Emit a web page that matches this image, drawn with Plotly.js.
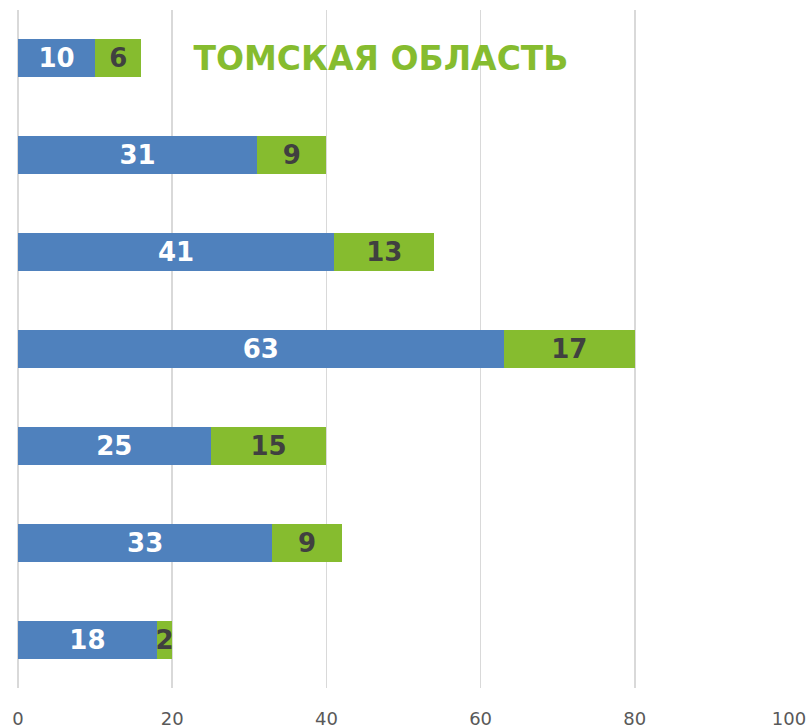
<!DOCTYPE html>
<html>
<head>
<meta charset="utf-8">
<script src="https://cdn.plot.ly/plotly-3.0.1.min.js"></script>
<style>html,body{margin:0;padding:0;background:#fff;}#chart{width:809px;height:728px;}</style>
</head>
<body>
<div id="chart"></div>
<script>
// categories from bottom to top
const categories = ["7", "6", "5", "4", "3", "2", "1"];
const seriesBlue = [18, 33, 25, 63, 41, 31, 10];
const seriesGreen = [2, 9, 15, 17, 13, 9, 6];
const xTickValues = [0, 20, 40, 60, 80, 100];
const chartTitle = "ТОМСКАЯ ОБЛАСТЬ";

const blue = "#4F81BD";
const green = "#86BC2F";

const traces = [
  {
    type: "bar", orientation: "h", y: categories, x: seriesBlue,
    marker: {color: blue, line: {width: 0}},
    text: seriesBlue.map(String), textposition: "inside", insidetextanchor: "middle",
    textangle: 0, constraintext: "none",
    textfont: {family: "DejaVu Sans", size: 26, color: "#ffffff", weight: 700},
    hoverinfo: "skip", showlegend: false
  },
  {
    type: "bar", orientation: "h", y: categories, x: seriesGreen,
    marker: {color: green, line: {width: 0}},
    text: seriesGreen.map(String), textposition: "inside", insidetextanchor: "middle",
    textangle: 0, constraintext: "none",
    textfont: {family: "DejaVu Sans", size: 26, color: "#404040", weight: 700},
    hoverinfo: "skip", showlegend: false
  }
];

const layout = {
  width: 809, height: 728,
  margin: {l: 17.5, r: 20, t: 9.5, b: 39.5, pad: 0},
  paper_bgcolor: "#ffffff", plot_bgcolor: "#ffffff",
  barmode: "stack", bargap: 0.608,
  title: {
    text: chartTitle,
    font: {family: "DejaVu Sans", size: 33, color: green, weight: 700},
    xref: "container", x: 381/809, xanchor: "center",
    yref: "container", y: 1 - 58/728, yanchor: "middle"
  },
  xaxis: {
    range: [0, 100], tickvals: xTickValues, ticktext: xTickValues.map(String),
    showgrid: true, gridcolor: "#D9D9D9", gridwidth: 1.5,
    zeroline: true, zerolinecolor: "#D9D9D9", zerolinewidth: 1.5,
    showline: false, ticks: "",
    tickfont: {family: "DejaVu Sans", size: 18, color: "#595959"},
    ticklabelstandoff: 18, fixedrange: true
  },
  yaxis: {
    type: "category", categoryorder: "array", categoryarray: categories,
    showticklabels: false, showgrid: false, zeroline: false, showline: false, ticks: "",
    range: [-0.5, 6.5], fixedrange: true
  }
};

Plotly.newPlot("chart", traces, layout, {staticPlot: true, displayModeBar: false});
</script>
</body>
</html>
